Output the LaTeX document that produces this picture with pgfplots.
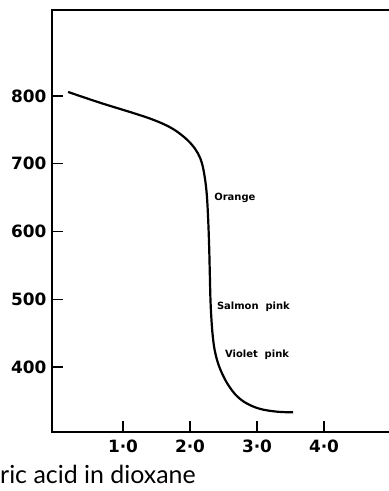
\documentclass[border=0pt]{standalone}
\usepackage{fontspec}
\setmainfont{Lato}
\newfontfamily\djv{DejaVu Sans}
\usepackage{pgfplots}
\pgfplotsset{compat=1.18}
\begin{document}
\begin{tikzpicture}
\begin{axis}[
  at={(52bp,59bp)}, anchor=south west,
  scale only axis,
  width=372.5bp, height=422bp,
  xmin=-0.06, xmax=5.5,
  ymin=304, ymax=927,
  axis line style={line width=1.8bp},
  tick style={line width=1.4bp, black},
  major tick length=11bp,
  tick align=inside,
  xtick={1,2,3,4},
  xticklabels={1·0,2·0,3·0,4·0},
  ytick={400,500,600,700,800},
  xtick pos=bottom, ytick pos=left,
  /pgf/number format/assume math mode=true,
  /pgf/number format/1000 sep={},
  ticklabel style={font=\djv\fontsize{17}{18}\selectfont\bfseries},
  yticklabel style={xshift=-2bp},
  xticklabel style={yshift=-4bp},
  clip=false,
]
\addplot[line width=2.2bp, smooth, tension=0.6] coordinates {
(0.18,806) (0.66,790) (1.15,775) (1.45,765) (1.70,754) (1.88,742)
(2.02,729) (2.12,715) (2.18,700) (2.22,680) (2.25,655) (2.27,620)
(2.285,580) (2.295,540) (2.305,500) (2.32,470) (2.34,445) (2.37,424)
(2.42,405) (2.49,388) (2.58,372) (2.70,357) (2.85,346) (3.05,338) (3.30,334) (3.54,333)
};
\node[anchor=west, inner sep=0pt, font=\djv\fontsize{10}{11}\selectfont\bfseries] at (axis cs:2.36,649) {Orange};
\node[anchor=west, inner sep=0pt, font=\djv\fontsize{10}{11}\selectfont\bfseries] at (axis cs:2.40,489) {Salmon\ \ pink};
\node[anchor=west, inner sep=0pt, font=\djv\fontsize{10}{11}\selectfont\bfseries] at (axis cs:2.52,418) {Violet\ \ pink};
\end{axis}
\node[anchor=base west, inner sep=0pt, font=\fontsize{25}{27}\selectfont] at (0bp,8bp) {ric acid in dioxane};
\pgfresetboundingbox
\useasboundingbox (0,0) rectangle (389bp,491bp);
\end{tikzpicture}
\end{document}
